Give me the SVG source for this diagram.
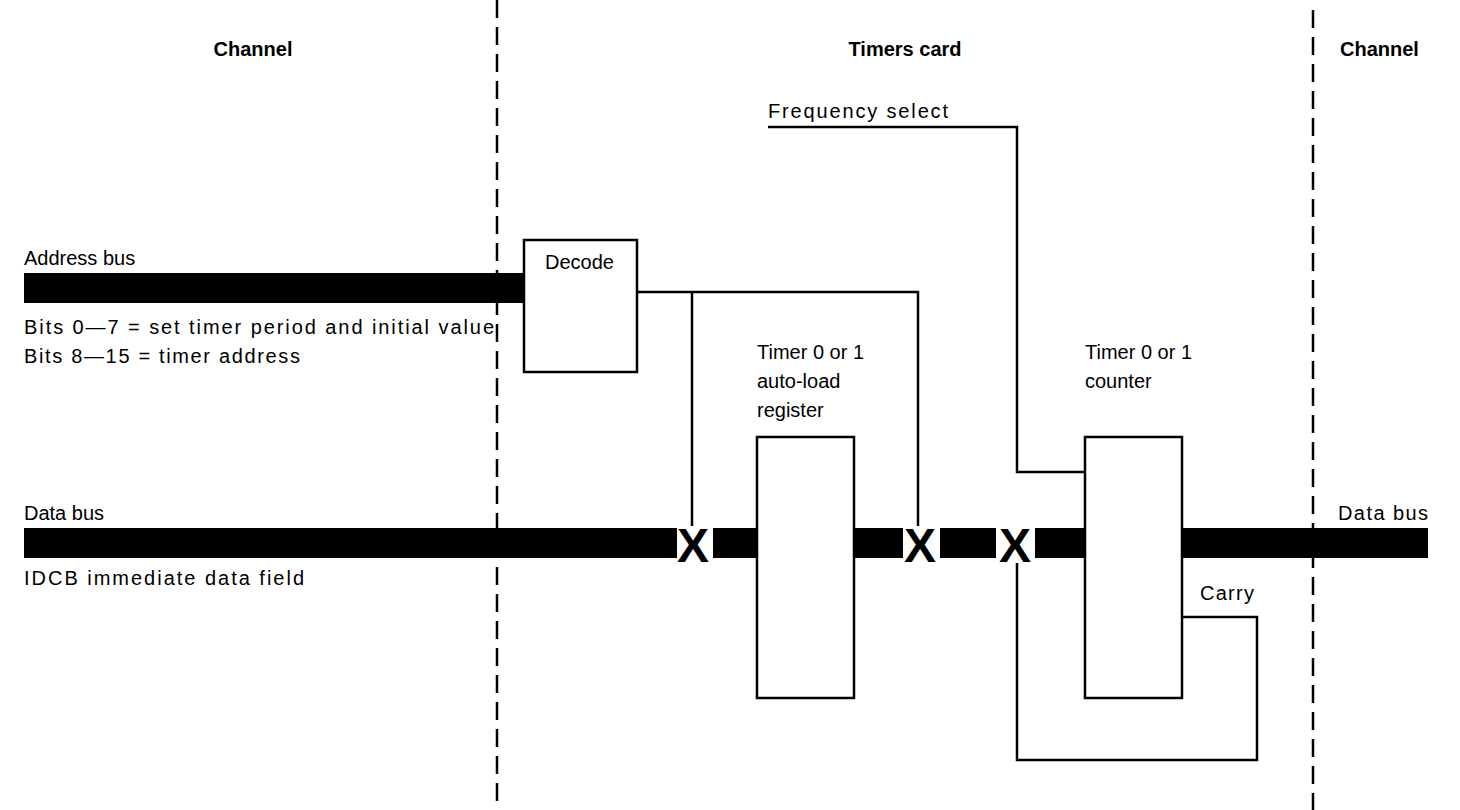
<svg xmlns="http://www.w3.org/2000/svg" width="1460" height="810" viewBox="0 0 1460 810">
<style>
text{font-family:"Liberation Sans",Arial,Helvetica,sans-serif;font-size:20px;fill:#000}
.h{font-weight:bold;font-size:20px}
.x{font-weight:bold;font-size:48px;text-anchor:middle}
.ln{fill:none;stroke:#000;stroke-width:2.5}
.dash{fill:none;stroke:#000;stroke-width:2.5;stroke-dasharray:18 9}
.box{fill:#fff;stroke:#000;stroke-width:2.5}
.bus{fill:#000}
</style>
<rect width="1460" height="810" fill="#fff"/>
<g id="boundaries">
<line class="dash" x1="497" y1="0" x2="497" y2="810"/>
<line class="dash" x1="1313" y1="10" x2="1313" y2="810"/>
</g>
<g id="headers">
<text class="h" x="253" y="56" text-anchor="middle">Channel</text>
<text class="h" x="905" y="56" text-anchor="middle">Timers card</text>
<text class="h" x="1340" y="56">Channel</text>
</g>
<g id="address-bus">
<text x="24" y="265">Address bus</text>
<rect class="bus" x="24" y="273" width="501" height="30"/>
<text x="24" y="334" textLength="470">Bits 0—7 = set timer period and initial value</text>
<text x="24" y="363" textLength="276">Bits 8—15 = timer address</text>
</g>
<g id="data-bus">
<text x="24" y="520">Data bus</text>
<text x="24" y="585" textLength="280">IDCB immediate data field</text>
<rect class="bus" x="24" y="528" width="653" height="30"/>
<rect class="bus" x="713" y="528" width="44" height="30"/>
<rect class="bus" x="854" y="528" width="49" height="30"/>
<rect class="bus" x="940" y="528" width="56" height="30"/>
<rect class="bus" x="1035" y="528" width="50" height="30"/>
<rect class="bus" x="1182" y="528" width="246" height="30"/>
<text x="1338" y="520" textLength="90">Data bus</text>
</g>
<g id="connectors">
<polyline class="ln" points="637,292 918,292 918,526"/>
<line class="ln" x1="692" y1="292" x2="692" y2="526"/>
<polyline class="ln" points="768,127 1017,127 1017,472 1085,472"/>
<polyline class="ln" points="1182,617 1257,617 1257,760 1017,760 1017,563"/>
</g>
<g id="switches">
<text class="x" x="693" y="562">X</text>
<text class="x" x="920" y="562">X</text>
<text class="x" x="1015" y="562">X</text>
</g>
<g id="decode">
<rect class="box" x="524" y="240" width="113" height="132"/>
<text x="545" y="269">Decode</text>
</g>
<g id="autoload-register">
<rect class="box" x="757" y="437" width="97" height="261"/>
<text x="757" y="359">Timer 0 or 1</text>
<text x="757" y="388">auto-load</text>
<text x="757" y="417">register</text>
</g>
<g id="counter">
<rect class="box" x="1085" y="437" width="97" height="261"/>
<text x="1085" y="359">Timer 0 or 1</text>
<text x="1085" y="388">counter</text>
</g>
<g id="frequency">
<text x="768" y="118" textLength="180">Frequency select</text>
</g>
<g id="carry">
<text x="1200" y="600" textLength="54">Carry</text>
</g>
</svg>
